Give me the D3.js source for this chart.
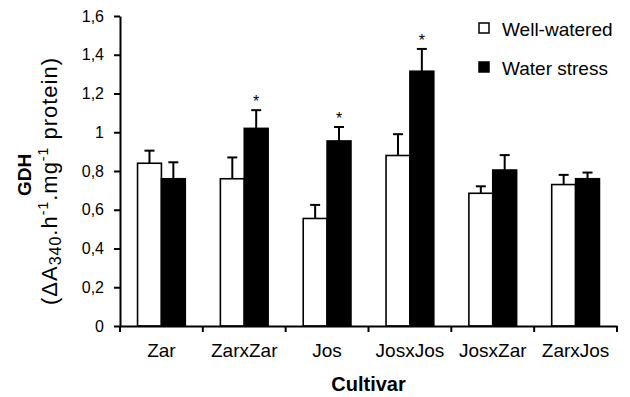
<!DOCTYPE html>
<html>
<head>
<meta charset="utf-8">
<script src="https://cdn.jsdelivr.net/npm/d3@7"></script>
<style>
  body { margin: 0; background: #fff; }
  svg { display: block; font-family: "Liberation Sans", Arial, sans-serif; }
</style>
</head>
<body>
<svg width="630" height="397"></svg>
<script>
// data
var cultivars = ["Zar", "ZarxZar", "Jos", "JosxJos", "JosxZar", "ZarxJos"];
var series = ["Well-watered", "Water stress"];
var wellWatered = [0.84, 0.76, 0.555, 0.88, 0.685, 0.73];
var wellWateredErr = [0.065, 0.11, 0.07, 0.11, 0.036, 0.05];
var waterStress = [0.76, 1.02, 0.955, 1.315, 0.805, 0.76];
var waterStressErr = [0.085, 0.094, 0.072, 0.115, 0.077, 0.032];
var significant = [false, true, true, true, false, false];
var yTicks = [0, 0.2, 0.4, 0.6, 0.8, 1, 1.2, 1.4, 1.6];

var svg = d3.select("svg");
var mLeft = 120, mRight = 617, mTop = 16, mBottom = 326;

var x0 = d3.scaleBand().domain(cultivars).range([mLeft, mRight]).padding(0);
var x1 = d3.scaleBand().domain(series).range([0, x0.bandwidth()]).paddingInner(0).paddingOuter(0.735);
var y = d3.scaleLinear().domain([0, 1.6]).range([mBottom, mTop]);
var fill = d3.scaleOrdinal().domain(series).range(["#fff", "#000"]);

// flatten into one row per bar
var rows = [];
cultivars.forEach(function (c, i) {
    rows.push({ cult: c, s: series[0], v: wellWatered[i], e: wellWateredErr[i], sig: false });
    rows.push({ cult: c, s: series[1], v: waterStress[i], e: waterStressErr[i], sig: significant[i] });
});

function cx(d) { return x0(d.cult) + x1(d.s) + x1.bandwidth() / 2; }

// error bars (up only) drawn first so bars sit over them
var eb = svg.append("g").attr("stroke", "#000").attr("stroke-width", 2);
eb.selectAll("line.v").data(rows).enter().append("line")
    .attr("x1", cx).attr("x2", cx)
    .attr("y1", function (d) { return y(d.v); })
    .attr("y2", function (d) { return y(d.v + d.e); });
eb.selectAll("line.c").data(rows).enter().append("line")
    .attr("x1", function (d) { return cx(d) - 5; })
    .attr("x2", function (d) { return cx(d) + 5; })
    .attr("y1", function (d) { return y(d.v + d.e); })
    .attr("y2", function (d) { return y(d.v + d.e); });

svg.append("g").selectAll("rect").data(rows).enter().append("rect")
    .attr("x", function (d) { return x0(d.cult) + x1(d.s); })
    .attr("y", function (d) { return y(d.v); })
    .attr("width", x1.bandwidth())
    .attr("height", function (d) { return y(0) - y(d.v); })
    .attr("fill", function (d) { return fill(d.s); })
    .attr("stroke", "#000")
    .attr("stroke-width", 1.6);

// significance stars
svg.append("g").selectAll("text").data(rows.filter(function (d) { return d.sig; })).enter().append("text")
    .attr("x", cx)
    .attr("y", function (d) { return y(d.v + d.e) - 3; })
    .attr("text-anchor", "middle")
    .attr("font-size", 16)
    .text("*");

// y axis
var yAxis = svg.append("g").attr("transform", "translate(" + mLeft + ",0)")
    .call(d3.axisLeft(y).tickValues(yTicks).tickSize(6).tickPadding(10).tickSizeOuter(0)
        .tickFormat(function (d) { return String(d).replace(".", ","); }));
yAxis.selectAll("text").attr("font-size", 16).attr("font-family", "Liberation Sans, Arial, sans-serif").attr("fill", "#000");
yAxis.selectAll("line, path").attr("stroke", "#000").attr("stroke-width", 2);

// x axis: labels centred in the band, ticks between bands
var xAxis = svg.append("g").attr("transform", "translate(0," + mBottom + ")")
    .call(d3.axisBottom(x0).tickSize(0).tickPadding(18).tickSizeOuter(0));
xAxis.selectAll("text").attr("font-size", 19).attr("font-family", "Liberation Sans, Arial, sans-serif").attr("fill", "#000");
xAxis.select("path").attr("stroke", "#000").attr("stroke-width", 2);
xAxis.selectAll("line.sep").data(cultivars.concat(["end"])).enter().append("line")
    .attr("class", "sep")
    .attr("x1", function (d, i) { return mLeft + i * x0.step(); })
    .attr("x2", function (d, i) { return mLeft + i * x0.step(); })
    .attr("y1", 0).attr("y2", 6)
    .attr("stroke", "#000").attr("stroke-width", 2);

svg.append("text")
    .attr("x", (mLeft + mRight) / 2).attr("y", 391)
    .attr("text-anchor", "middle")
    .attr("font-size", 20).attr("font-weight", "bold")
    .text("Cultivar");

// y title, two lines
svg.append("text")
    .attr("transform", "translate(31,175) rotate(-90)")
    .attr("text-anchor", "middle")
    .attr("font-size", 19).attr("font-weight", "bold")
    .text("GDH");

var t2 = svg.append("text")
    .attr("transform", "translate(57,181) rotate(-90)")
    .attr("text-anchor", "middle")
    .attr("font-size", 22)
    .attr("letter-spacing", 1);
t2.append("tspan").text("(\u0394A");
t2.append("tspan").attr("font-size", 16).attr("dy", 4).text("340");
t2.append("tspan").attr("dy", -4).text(".h");
t2.append("tspan").attr("font-size", 14).attr("dy", -9).text("-1");
t2.append("tspan").attr("dy", 9).text(".mg");
t2.append("tspan").attr("font-size", 14).attr("dy", -9).text("-1");
t2.append("tspan").attr("dy", 9).text(" protein)");

// legend
var lg = svg.append("g").selectAll("g").data(series).enter().append("g")
    .attr("transform", function (d, i) { return "translate(479," + (23 + i * 39) + ")"; });
lg.append("rect")
    .attr("width", 10).attr("height", 10)
    .attr("fill", function (d) { return fill(d); })
    .attr("stroke", "#000").attr("stroke-width", 1.5);
lg.append("text")
    .attr("x", 23).attr("y", 13)
    .attr("font-size", 19)
    .text(function (d) { return d; });
</script>
</body>
</html>
